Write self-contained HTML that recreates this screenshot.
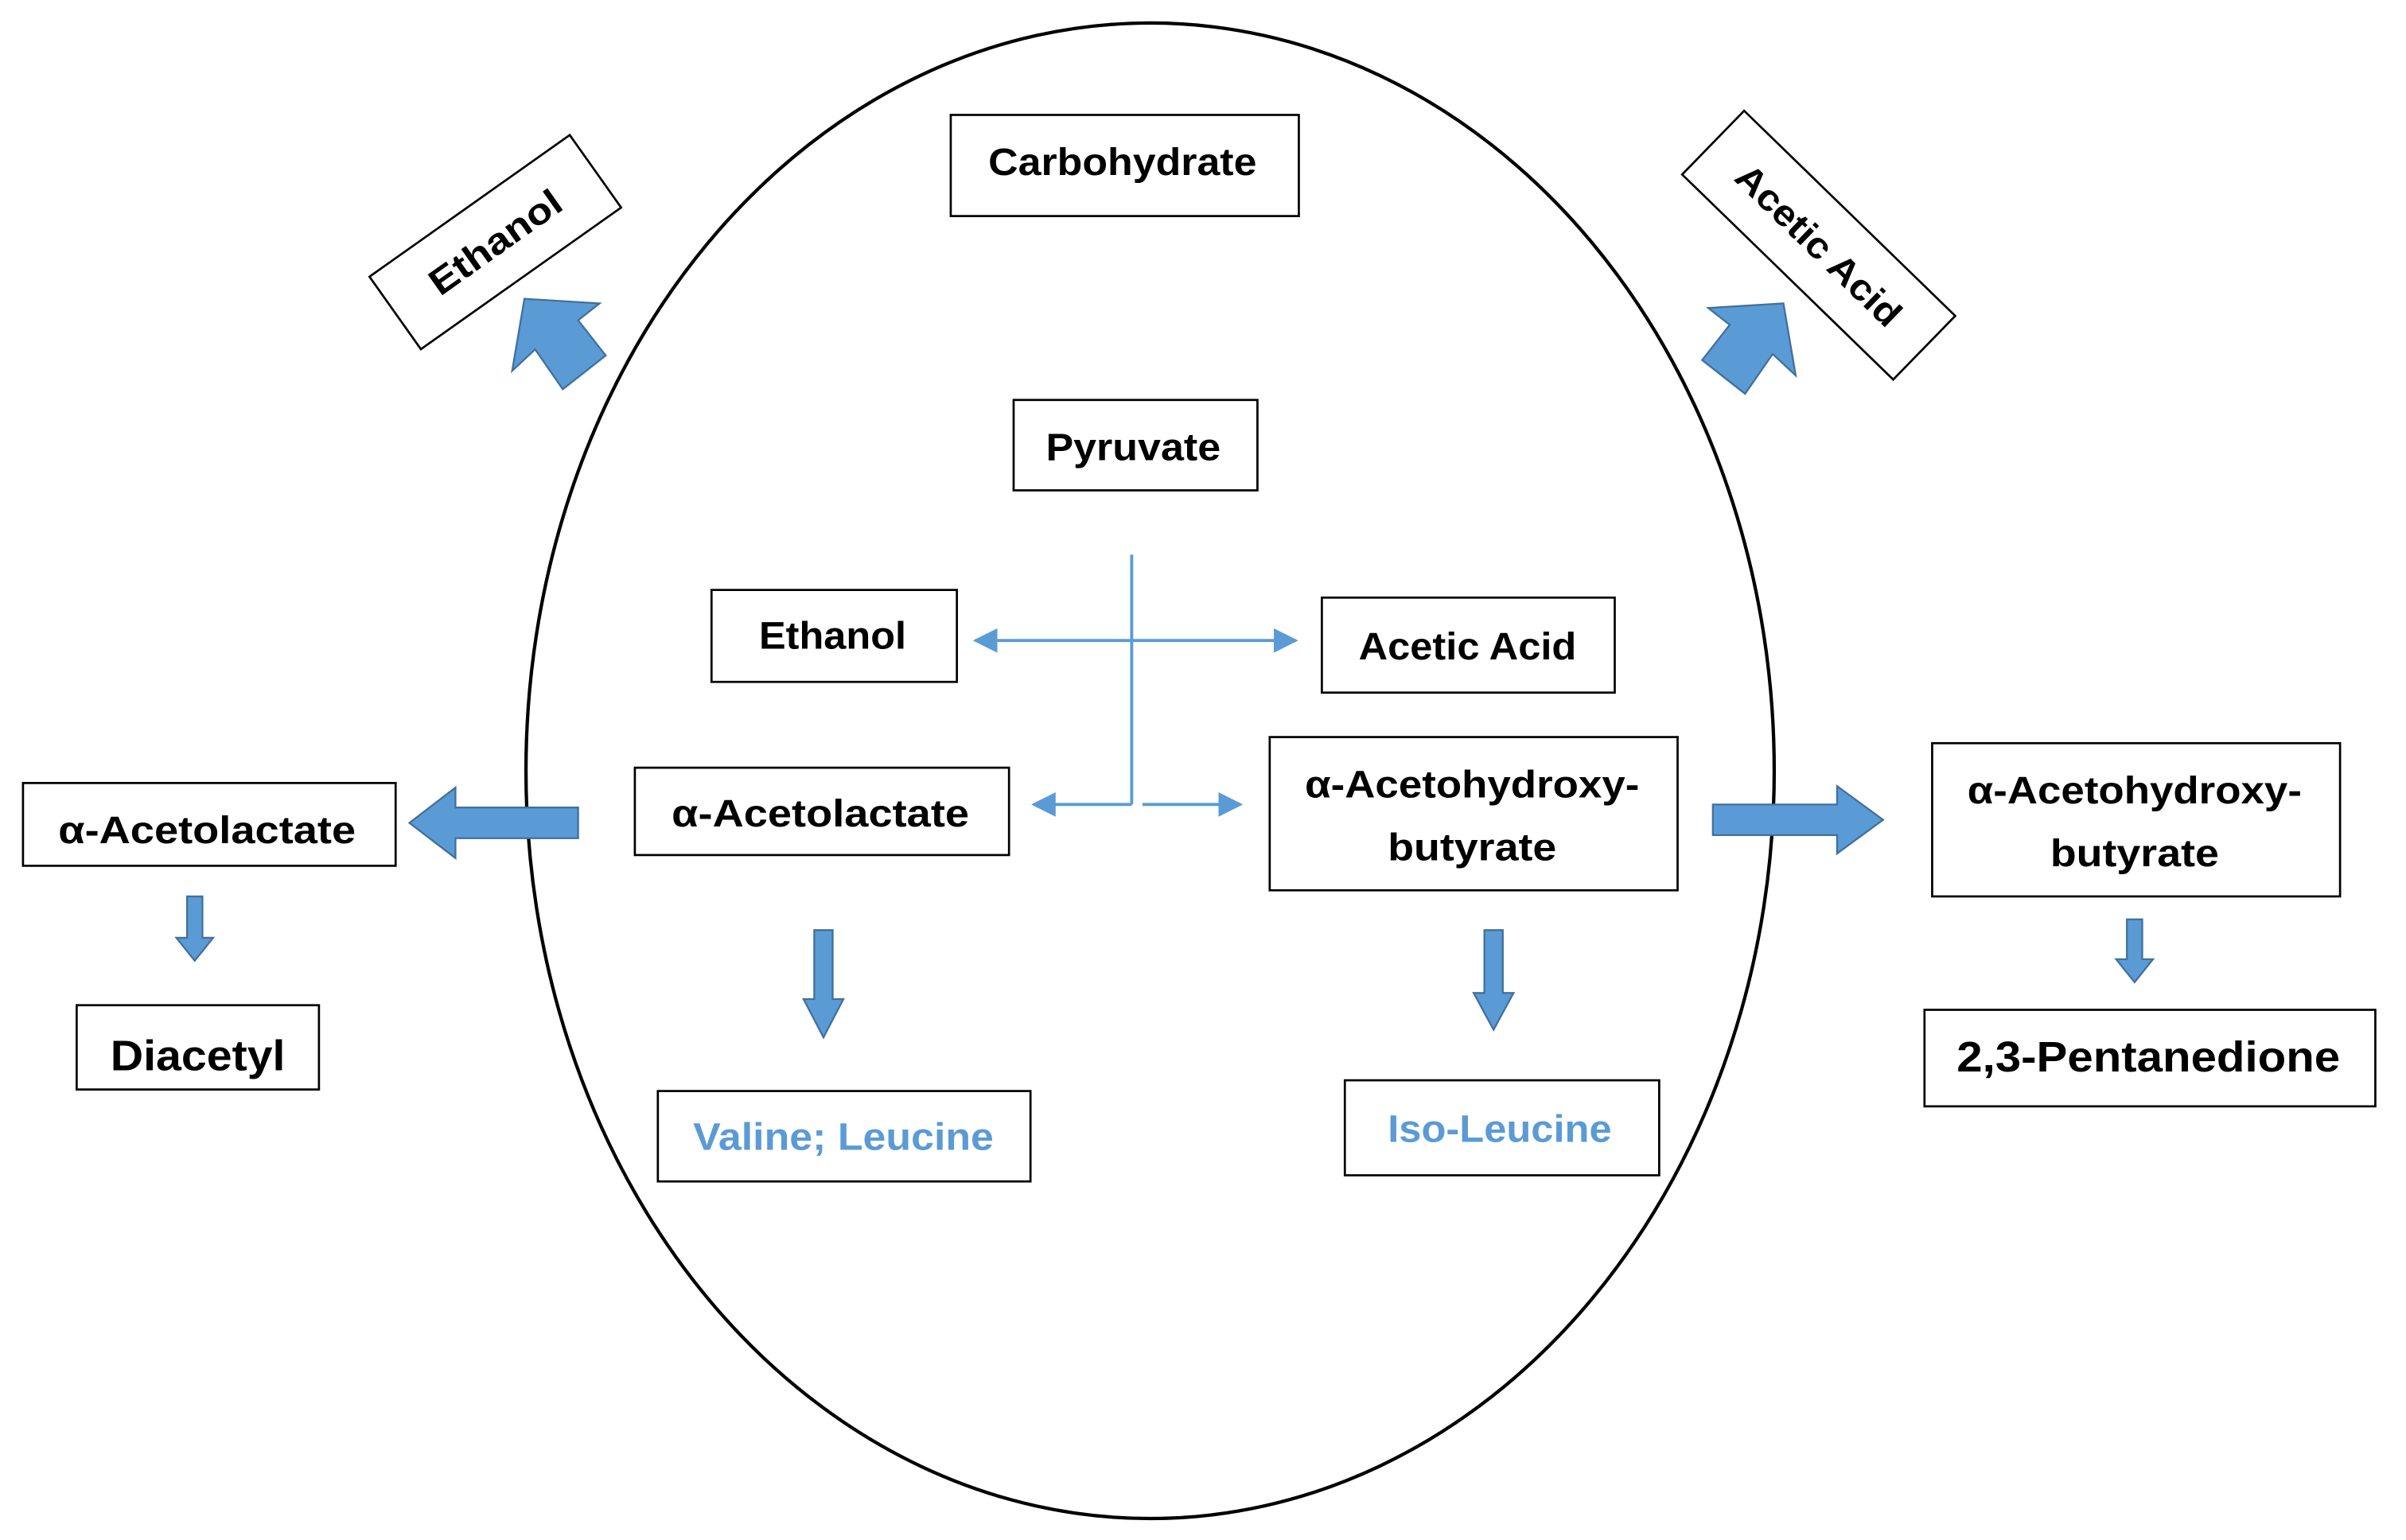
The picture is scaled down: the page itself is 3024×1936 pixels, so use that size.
<!DOCTYPE html>
<html><head><meta charset="utf-8"><style>
html,body{margin:0;padding:0;background:#fff;}
svg{display:block;}
text{font-family:"Liberation Sans","DejaVu Sans",sans-serif;font-weight:bold;text-anchor:middle;dominant-baseline:central;}
</style></head><body>
<svg width="3024" height="1936" viewBox="0 0 1569 1005" preserveAspectRatio="none" xmlns="http://www.w3.org/2000/svg">
<defs>
<marker id="ah" viewBox="0 0 10 10" refX="9" refY="5" markerWidth="8" markerHeight="8" orient="auto-start-reverse" markerUnits="strokeWidth">
<path d="M0,0 L10,5 L0,10 z" fill="#5b9bd5"/></marker>
</defs>
<rect width="1569" height="1005" fill="#fff"/>
<ellipse cx="750" cy="503" rx="407" ry="488" fill="none" stroke="#000" stroke-width="2.2"/>

<g fill="#fff" stroke="#000" stroke-width="1.4">
<rect x="620" y="75" width="227" height="66"/>
<rect x="661" y="261" width="159" height="59"/>
<rect x="464" y="385" width="160" height="60"/>
<rect x="862" y="390" width="191" height="62"/>
<rect x="414" y="501" width="244" height="57"/>
<rect x="828" y="481" width="266" height="100"/>
<rect x="429" y="712" width="243" height="59"/>
<rect x="877" y="705" width="205" height="62"/>
<rect x="15" y="511" width="243" height="54"/>
<rect x="50" y="656" width="158" height="55"/>
<rect x="1260" y="485" width="266" height="100"/>
<rect x="1255" y="659" width="294" height="63"/>
<rect x="-80" y="-29" width="160" height="58" transform="translate(323,158) rotate(-35.3)"/>
<rect x="-96" y="-29" width="192" height="58" transform="translate(1186,160) rotate(44.2)"/>
</g>

<g font-size="25" fill="#000">
<text x="732" y="106" textLength="175" lengthAdjust="spacingAndGlyphs">Carbohydrate</text>
<text x="739" y="292" textLength="114" lengthAdjust="spacingAndGlyphs">Pyruvate</text>
<text x="543" y="415" textLength="96" lengthAdjust="spacingAndGlyphs">Ethanol</text>
<text x="957" y="422" textLength="142" lengthAdjust="spacingAndGlyphs">Acetic Acid</text>
<text x="535" y="531" textLength="194" lengthAdjust="spacingAndGlyphs">α-Acetolactate</text>
<text x="960" y="512" textLength="218" lengthAdjust="spacingAndGlyphs">α-Acetohydroxy-</text>
<text x="960" y="553" textLength="110" lengthAdjust="spacingAndGlyphs">butyrate</text>
<text x="135" y="542" textLength="194" lengthAdjust="spacingAndGlyphs">α-Acetolactate</text>
<text x="1392" y="516" textLength="218" lengthAdjust="spacingAndGlyphs">α-Acetohydroxy-</text>
<text x="1392" y="557" textLength="110" lengthAdjust="spacingAndGlyphs">butyrate</text>
<text x="129" y="689" font-size="28" textLength="114" lengthAdjust="spacingAndGlyphs">Diacetyl</text>
<text x="1401" y="690" font-size="28" textLength="250" lengthAdjust="spacingAndGlyphs">2,3-Pentanedione</text>
<text x="550" y="742" fill="#5b9bd5" textLength="196" lengthAdjust="spacingAndGlyphs">Valine; Leucine</text>
<text x="978" y="737" fill="#5b9bd5" textLength="146" lengthAdjust="spacingAndGlyphs">Iso-Leucine</text>
<text transform="translate(323,158) rotate(-35.3)" font-size="24" textLength="100" lengthAdjust="spacingAndGlyphs">Ethanol</text>
<text transform="translate(1186,160) rotate(44.2)" font-size="24" textLength="140" lengthAdjust="spacingAndGlyphs">Acetic Acid</text>
</g>

<g stroke="#5b9bd5" stroke-width="2" fill="none">
<line x1="738" y1="362" x2="738" y2="525"/>
<line x1="636" y1="418" x2="845" y2="418" marker-start="url(#ah)" marker-end="url(#ah)"/>
<polyline points="738,525 674,525" marker-end="url(#ah)"/>
<line x1="745" y1="525" x2="809" y2="525" marker-end="url(#ah)"/>
</g>

<g fill="#5b9bd5" stroke="#41719c" stroke-width="1.2">
<polygon points="377,527 297,527 297,514 267,537 297,560 297,547 377,547"/>
<polygon points="1117,525 1198,525 1198,513 1228,535 1198,557 1198,545 1117,545"/>
<polygon points="122,585 132,585 132,612 139,612 127,627 115,612 122,612"/>
<polygon points="531,607 543,607 543,652 550,652 537,677 524,652 531,652"/>
<polygon points="968,607 980,607 980,648 987,648 974,672 961,648 968,648"/>
<polygon points="1387,600 1397,600 1397,626 1404,626 1392,641 1380,626 1387,626"/>
<polygon points="342,195 391,198 377,209 395,232 367,254 349,228 334,242"/>
<polygon points="1163,198 1114,201 1128,212 1110,235 1138,257 1156,231 1171,245"/>
</g>
</svg>
</body></html>
